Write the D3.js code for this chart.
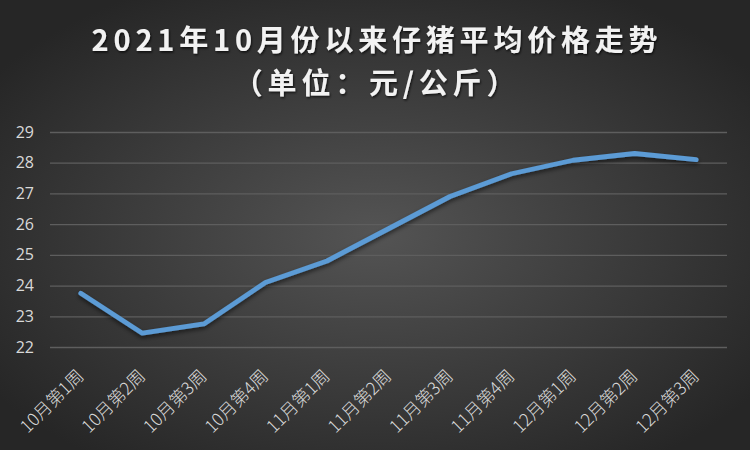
<!DOCTYPE html>
<html>
<head>
<meta charset="utf-8">
<script src="https://cdn.jsdelivr.net/npm/d3@7"></script>
<style>
  body { margin: 0; padding: 0; background: #262626; }
  svg { display: block; }
</style>
</head>
<body>
<div id="chart-area"></div>
<script>
// data
const weeks = ["10月第1周", "10月第2周", "10月第3周", "10月第4周",
  "11月第1周", "11月第2周", "11月第3周", "11月第4周",
  "12月第1周", "12月第2周", "12月第3周"];
const prices = [23.75, 22.45, 22.75, 24.1, 24.8, 25.85, 26.9, 27.64, 28.08, 28.3, 28.1];
const yTicks = [22, 23, 24, 25, 26, 27, 28, 29];
const titleLines = ["2021年10月份以来仔猪平均价格走势", "（单位：元/公斤）"];

const W = 750, H = 450;
const margin = { top: 132, right: 23, bottom: 103, left: 50 };
const width = W - margin.left - margin.right,
  height = H - margin.top - margin.bottom;

let svg = d3.select("#chart-area").append("svg")
  .attr("width", W)
  .attr("height", H);

// background gradient
let defs = svg.append("defs");
let grad = defs.append("radialGradient")
  .attr("id", "bg")
  .attr("cx", "50%").attr("cy", "52%").attr("r", "62%");
grad.append("stop").attr("offset", "0%").attr("stop-color", "#545454");
grad.append("stop").attr("offset", "100%").attr("stop-color", "#262626");

let shadow = defs.append("filter").attr("id", "shadow")
  .attr("x", "-10%").attr("y", "-10%").attr("width", "120%").attr("height", "130%");
shadow.append("feDropShadow")
  .attr("dx", 0).attr("dy", 2.5).attr("stdDeviation", 2)
  .attr("flood-color", "#000").attr("flood-opacity", 0.55);

let titleShadow = defs.append("filter").attr("id", "tshadow");
titleShadow.append("feDropShadow")
  .attr("dx", 1).attr("dy", 1.5).attr("stdDeviation", 1.2)
  .attr("flood-color", "#000").attr("flood-opacity", 0.7);

svg.append("rect")
  .attr("width", W).attr("height", H)
  .attr("fill", "url(#bg)");

// title
svg.append("g")
  .attr("filter", "url(#tshadow)")
  .selectAll("text")
  .data(titleLines)
  .enter()
  .append("text")
  .attr("x", W / 2 + 2)
  .attr("y", (d, i) => 51 + i * 43)
  .attr("text-anchor", "middle")
  .attr("fill", "#f2f2f2")
  .style("font-family", "'Noto Sans CJK SC', sans-serif")
  .style("font-weight", "bold")
  .style("font-size", "29px")
  .style("letter-spacing", "4.8px")
  .text(d => d);

let g = svg.append("g")
  .attr("transform", `translate(${margin.left}, ${margin.top})`);

let x = d3.scalePoint()
  .domain(weeks)
  .range([0, width])
  .padding(0.5);

let y = d3.scaleLinear()
  .domain([22, 29])
  .range([height, 0]);

// gridlines
g.append("g")
  .attr("class", "grid")
  .call(d3.axisLeft(y).tickValues(yTicks).tickSize(-width).tickFormat(""))
  .call(ax => ax.select(".domain").remove())
  .call(ax => ax.selectAll("line")
    .attr("stroke", "#5e5e5e")
    .attr("stroke-width", 1.3));

// y labels
g.append("g")
  .attr("class", "axis y-axis")
  .call(d3.axisLeft(y).tickValues(yTicks).tickSize(0).tickPadding(16).tickFormat(d3.format("d")))
  .call(ax => ax.select(".domain").remove())
  .call(ax => ax.selectAll("text")
    .attr("fill", "#d9d9d9")
    .style("font-family", "'Open Sans', sans-serif")
    .style("font-size", "16px"));

// x labels
g.append("g")
  .selectAll("text")
  .data(weeks)
  .enter()
  .append("text")
  .attr("transform", d => `translate(${x(d) + 4}, ${height + 30}) rotate(-45)`)
  .attr("text-anchor", "end")
  .attr("fill", "#d9d9d9")
  .style("font-family", "'Noto Sans CJK SC', sans-serif")
  .style("font-weight", 300)
  .style("font-size", "17.5px")
  .text(d => d);

// price line
let line = d3.line()
  .x((d, i) => x(weeks[i]))
  .y(d => y(d));

g.append("path")
  .datum(prices)
  .attr("d", line)
  .attr("fill", "none")
  .attr("stroke", "#5b9bd5")
  .attr("stroke-width", 4.8)
  .attr("stroke-linecap", "round")
  .attr("stroke-linejoin", "round")
  .attr("filter", "url(#shadow)");
</script>
</body>
</html>
